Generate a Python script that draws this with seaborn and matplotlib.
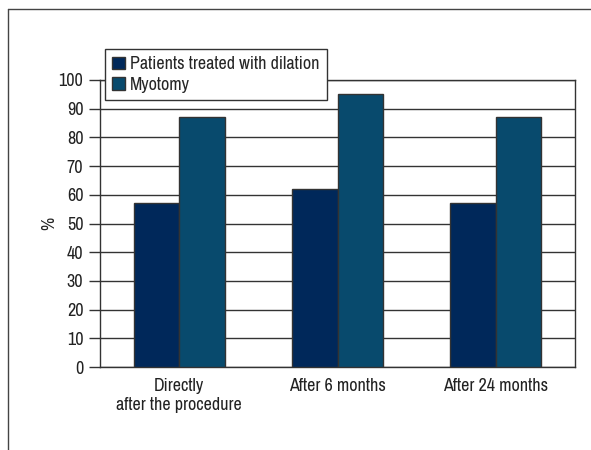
import pandas as pd
import matplotlib
matplotlib.use('Agg')
import matplotlib.pyplot as plt
from matplotlib.lines import Line2D
from matplotlib import font_manager
import seaborn as sns

# data
categories = ['Directly\nafter the procedure', 'After 6 months', 'After 24 months']
dilation = [57, 62, 57]
myotomy = [87, 95, 87]
series_names = ['Patients treated with dilation', 'Myotomy']
yticks = [0, 10, 20, 30, 40, 50, 60, 70, 80, 90, 100]

df = pd.DataFrame({
    'cat': categories * 2,
    'value': dilation + myotomy,
    'group': [series_names[0]] * 3 + [series_names[1]] * 3,
})

sns.set_style('white')

# look for a narrow / condensed font, like the reference's
narrow = None
for f in font_manager.fontManager.ttflist:
    if ('Narrow' in f.name or 'Condensed' in f.name) and f.weight in (400, 'normal', 'regular'):
        narrow = f.name
        break
if narrow is None:
    for f in font_manager.fontManager.ttflist:
        if f.stretch in ('condensed', 'semi-condensed', 'extra-condensed') or \
                'Condensed' in f.fname or 'Narrow' in f.fname:
            narrow = font_manager.FontProperties(fname=f.fname).get_name()
            break

if narrow is not None:
    plt.rcParams['font.family'] = [narrow, 'DejaVu Sans']
else:
    plt.rcParams['font.family'] = ['DejaVu Sans']
    plt.rcParams['font.stretch'] = 'condensed'

fig = plt.figure(figsize=(5.91, 4.5), dpi=100)
ax = fig.add_axes([100 / 591, 1 - 367 / 450, 475 / 591, 287 / 450])

palette = ['#00285a', '#084a6d']
sns.barplot(data=df, x='cat', y='value', hue='group', order=categories,
            hue_order=series_names, palette=palette, width=0.575, gap=0,
            edgecolor='#333333', linewidth=1, saturation=1, ax=ax, zorder=3)

ax.set_ylim(0, 100)
ax.set_xlim(-0.5, 2.5)
ax.set_yticks(yticks)
ax.set_yticklabels([str(t) for t in yticks], fontsize=13, color='#222222')
ax.set_xticks(range(3))
ax.set_xticklabels(categories, fontsize=13, color='#222222', linespacing=1.2)
ax.set_xticks([-0.5, 0.5, 1.5, 2.5], minor=True)
ax.tick_params(axis='x', which='major', length=0, pad=8)
ax.tick_params(axis='x', which='minor', length=8, width=1, color='#333333', direction='out')
ax.tick_params(axis='y', length=8, width=1, color='#333333', direction='out', left=True, pad=4)
ax.yaxis.grid(True, color='#333333', linewidth=1)
ax.set_axisbelow(True)
for s in ax.spines.values():
    s.set_color('#333333')
    s.set_linewidth(1)
ax.set_xlabel('')
ax.set_ylabel('%', fontsize=13, color='#222222', labelpad=1)

handles, labels = ax.get_legend_handles_labels()
leg = ax.legend(handles, labels, loc='upper left', bbox_to_anchor=(105 / 591, 1 - 49 / 450),
                bbox_transform=fig.transFigure, frameon=True, fancybox=False,
                fontsize=13, handlelength=0.7, handleheight=0.7, handletextpad=0.3,
                labelspacing=0.25, borderpad=0.4, borderaxespad=0)
leg.get_frame().set_edgecolor('#333333')
leg.get_frame().set_linewidth(1)
leg.get_frame().set_alpha(1)

# outer frame lines (top and left)
fig.add_artist(Line2D([8 / 591, 1], [1 - 9 / 450, 1 - 9 / 450], color='#444444', linewidth=1))
fig.add_artist(Line2D([8 / 591, 8 / 591], [0, 1 - 9 / 450], color='#444444', linewidth=1))

plt.savefig('out.png', dpi=100)
plt.close()
